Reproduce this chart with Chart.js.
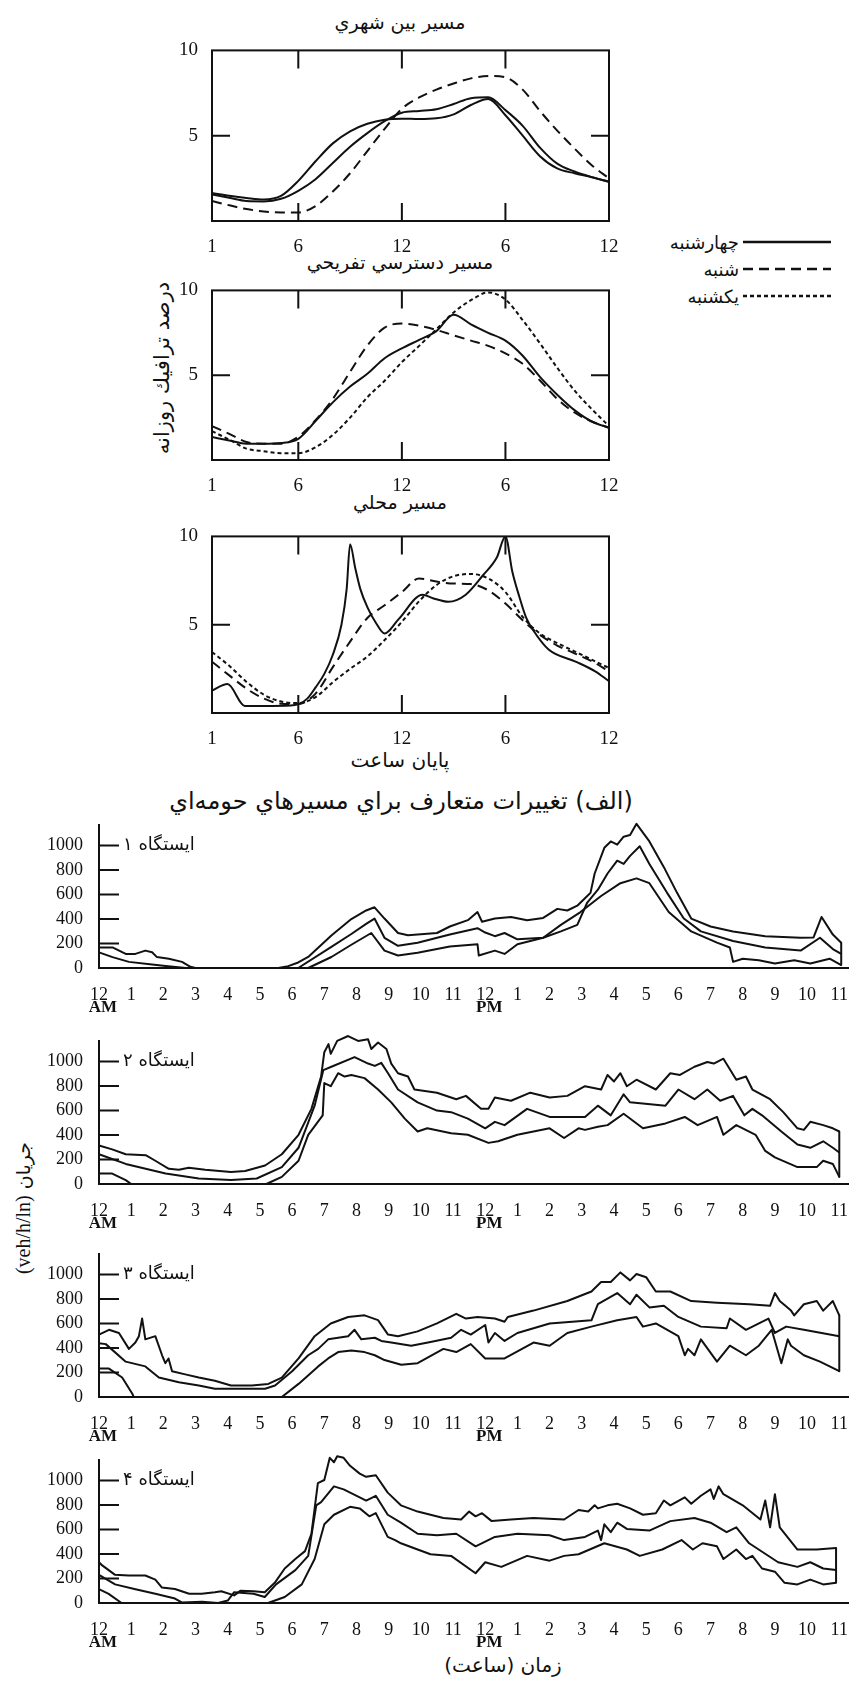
<!DOCTYPE html>
<html lang="fa">
<head>
<meta charset="utf-8">
<script src="https://cdn.jsdelivr.net/npm/chart.js@4.4.1/dist/chart.umd.min.js"></script>
<style>
  body { margin: 0; background: #fff; }
  #page { position: relative; width: 856px; height: 1684px; overflow: hidden; font-family: "DejaVu Sans", sans-serif; color: #111; }
  canvas { position: absolute; }
  .t { position: absolute; white-space: nowrap; transform: translate(-50%, -50%); font-size: 19px; }
  .rot { transform: translate(-50%, -50%) rotate(-90deg); }
  .key { position: absolute; white-space: nowrap; font-size: 18px; transform: translateY(-50%); text-align: right; }
  .latin { font-family: "Liberation Serif", serif; font-size: 20px; }
</style>
</head>
<body>
<div id="page">
  <div class="t" dir="rtl" style="left:400px; top:22px;">مسير بين شهري</div>
  <div class="t" dir="rtl" style="left:400px; top:262px;">مسير دسترسي تفريحي</div>
  <div class="t" dir="rtl" style="left:400px; top:502px;">مسير محلي</div>
  <div class="t" dir="rtl" style="left:400px; top:760px; font-size:20px;">پایان ساعت</div>
  <div class="t" dir="rtl" style="left:401px; top:801px; font-size:24px;">(الف) تغييرات متعارف براي مسيرهاي حومه‌اي</div>
  <div class="t rot" dir="rtl" style="left:162px; top:368px; font-size:21px;">درصد ترافيك روزانه</div>
  <div class="t rot" dir="rtl" style="left:23px; top:1208px; font-size:19px;">جریان <span class="latin">(veh/h/ln)</span></div>
  <div class="t" dir="rtl" style="left:503px; top:1665px; font-size:20px;">زمان (ساعت)</div>

  <div id="legend"></div>
  <svg style="position:absolute; left:0; top:0;" width="856" height="320" id="legendLines"></svg>

  <canvas id="top1" width="480" height="220" style="left:150px; top:33px;"></canvas>
  <canvas id="top2" width="480" height="219" style="left:150px; top:273px;"></canvas>
  <canvas id="top3" width="480" height="226" style="left:150px; top:519px;"></canvas>

  <canvas id="st1" width="856" height="212" style="left:0; top:806px;"></canvas>
  <canvas id="st2" width="856" height="212" style="left:0; top:1022px;"></canvas>
  <canvas id="st3" width="856" height="212" style="left:0; top:1235px;"></canvas>
  <canvas id="st4" width="856" height="212" style="left:0; top:1441px;"></canvas>
</div>

<script>
// ---- top panels: percent of daily traffic by ending hour ----
const topHours = [1, 2, 3, 4, 5, 6, 7, 8, 9, 10, 11, 12, 13, 14, 15, 16, 17, 18, 19, 20, 21, 22, 23, 24];
const topTickHours = [1, 6, 12, 18, 24];
const topTickLabels = ['1', '6', '12', '6', '12'];
const topYTicks = [5, 10];
const dayNames = ['چهارشنبه', 'شنبه', 'یکشنبه'];

// intercity route
const intercityWed = [1.64, 1.48, 1.35, 1.26, 1.47, 2.35, 3.5, 4.55, 5.26, 5.7, 5.94, 6.0, 5.98, 6.02, 6.25, 6.8, 7.15, 6.2, 5.0, 3.8, 3.08, 2.8, 2.57, 2.3];
const intercitySat = [1.17, 0.92, 0.7, 0.56, 0.5, 0.5, 0.88, 1.73, 2.8, 4.1, 5.4, 6.58, 7.24, 7.7, 8.06, 8.36, 8.5, 8.42, 7.7, 6.45, 5.3, 4.25, 3.27, 2.5];
const intercitySun = [1.55, 1.36, 1.17, 1.15, 1.3, 1.77, 2.45, 3.4, 4.35, 5.15, 5.85, 6.35, 6.45, 6.55, 6.86, 7.2, 7.25, 6.5, 5.58, 4.3, 3.36, 2.9, 2.57, 2.3];

// recreational access route
const recreationWed = [1.35, 1.15, 0.96, 0.96, 1.0, 1.25, 2.3, 3.4, 4.33, 5.08, 6.0, 6.58, 7.08, 7.6, 8.56, 8.0, 7.5, 7.04, 6.15, 4.9, 3.85, 2.94, 2.27, 1.9];
const recreationSat = [2.0, 1.54, 1.06, 0.96, 0.96, 1.37, 2.35, 3.6, 5.2, 6.75, 7.8, 8.05, 7.92, 7.67, 7.35, 7.04, 6.73, 6.29, 5.67, 4.69, 3.6, 2.8, 2.27, 1.9];
const recreationSun = [1.7, 1.2, 0.67, 0.52, 0.4, 0.4, 0.75, 1.48, 2.5, 3.7, 4.67, 5.77, 6.73, 7.71, 8.7, 9.42, 9.88, 9.46, 8.25, 6.88, 5.44, 4.1, 3.0, 2.0];

// local route (Wednesday read at its own hours to keep the two sharp peaks)
const localWedHours = [1, 1.9, 2.9, 4.5, 5.8, 6.5, 7, 7.5, 8, 8.5, 8.8, 9, 9.3, 9.6, 10, 10.5, 11, 11.8, 13.2, 13.8, 14.7, 15.7, 16.7, 17.5, 18, 18.4, 18.8, 19.2, 19.6, 20.5, 22.1, 23.2, 24];
const localWed = [1.27, 1.64, 0.4, 0.4, 0.45, 0.8, 1.45, 2.2, 3.3, 5.0, 7.0, 9.55, 8.2, 7.0, 6.0, 5.1, 4.5, 5.3, 6.7, 6.5, 6.3, 6.7, 7.8, 8.8, 10.0, 8.0, 6.6, 5.4, 4.7, 3.6, 2.9, 2.36, 1.8];
const localSat = [2.9, 2.13, 1.38, 0.82, 0.53, 0.51, 1.1, 2.6, 4.04, 5.38, 6.1, 6.85, 7.62, 7.44, 7.33, 7.3, 6.95, 6.2, 5.25, 4.42, 3.82, 3.38, 2.93, 2.36];
const localSun = [3.45, 2.67, 1.76, 1.04, 0.65, 0.56, 0.9, 1.74, 2.5, 3.2, 4.13, 5.16, 6.33, 7.24, 7.75, 7.87, 7.62, 6.85, 5.44, 4.5, 3.96, 3.49, 3.02, 2.55];

// ---- bottom panels: flow (veh/h/ln) over the day, [hour, flow] ----
const clockTicks = [0, 1, 2, 3, 4, 5, 6, 7, 8, 9, 10, 11, 12, 13, 14, 15, 16, 17, 18, 19, 20, 21, 22, 23];
const clockLabels = ['12', '1', '2', '3', '4', '5', '6', '7', '8', '9', '10', '11', '12', '1', '2', '3', '4', '5', '6', '7', '8', '9', '10', '11'];
const meridiem = ['AM', 'PM'];
const flowLabelTicks = [0, 200, 400, 600, 800, 1000];
const flowMarkTicks = [200, 400, 600, 800, 1000];
const stationNames = ['ایستگاه ۱', 'ایستگاه ۲', 'ایستگاه ۳', 'ایستگاه ۴'];

const st1High = [[0,168],[0.42,168],[0.83,115],[1.13,115],[1.44,142],[1.65,128],[1.8,89],[2.17,76],[2.58,50],[2.84,10],[3.0,0],[5.57,0],[5.88,15],[6.19,45],[6.5,90],[7.22,265],[7.84,400],[8.3,470],[8.56,496],[8.87,404],[9.29,286],[9.6,268],[9.9,273],[10.5,286],[10.9,339],[11.46,391],[11.76,457],[11.9,378],[12.3,404],[12.8,417],[13.3,391],[13.8,409],[14.24,483],[14.55,470],[14.86,509],[15.17,588],[15.27,614],[15.4,772],[15.7,982],[15.9,1034],[16.1,1008],[16.3,1073],[16.5,1087],[16.7,1178],[17.1,1034],[17.55,824],[17.96,614],[18.4,404],[19,339],[19.7,299],[20.7,260],[21.8,247],[22.2,250],[22.45,417],[22.8,273],[23.06,207]];
const st1Mid = [[0,128],[0.42,89],[0.93,50],[1.65,29],[2.07,16],[2.7,0],[6.19,0],[7.22,173],[7.84,278],[8.3,360],[8.56,404],[8.87,247],[9.29,181],[9.9,207],[10.9,273],[11.76,325],[12.0,290],[12.3,260],[12.6,286],[13.0,234],[13.8,247],[14.35,299],[14.86,352],[15.17,535],[15.5,640],[15.8,772],[16.1,877],[16.3,850],[16.5,916],[16.8,995],[17.1,850],[17.65,614],[18.17,404],[18.7,299],[19.7,220],[20.7,168],[21.8,142],[22.4,247],[22.8,155],[23.06,115]];
const st1Low = [[0,0],[6.5,0],[7.22,90],[7.84,190],[8.46,286],[8.87,142],[9.29,102],[9.9,125],[10.9,175],[11.76,194],[11.8,102],[12.3,142],[12.6,115],[13.0,194],[13.8,247],[14.35,352],[14.96,457],[15.6,588],[16.2,693],[16.7,732],[17.1,693],[17.7,457],[18.4,299],[19.2,207],[19.6,168],[19.7,50],[20,76],[20.5,63],[21,37],[21.6,63],[22.1,37],[22.7,76],[23.06,24]];

const st2High = [[0,315],[0.41,283],[0.83,243],[1.45,235],[1.75,190],[2.17,124],[2.48,116],[2.79,132],[3.3,116],[4.1,98],[4.54,106],[5.16,151],[5.68,243],[6.2,402],[6.6,614],[6.9,878],[7.0,1077],[7.13,1143],[7.2,1063],[7.4,1169],[7.74,1209],[8.05,1169],[8.36,1182],[8.46,1103],[8.67,1156],[8.93,1103],[9.08,984],[9.29,905],[9.6,878],[9.8,772],[10.5,746],[11.1,693],[11.4,720],[11.87,614],[12.1,614],[12.3,706],[12.8,680],[13.4,746],[14.0,706],[14.55,720],[15.1,799],[15.6,772],[15.8,891],[16.0,838],[16.2,905],[16.4,799],[16.7,852],[17.3,772],[17.75,905],[18.05,891],[18.5,958],[18.9,997],[19.1,984],[19.4,1024],[19.8,852],[20.1,878],[20.3,772],[20.85,693],[21.26,587],[21.7,455],[21.9,442],[22.1,508],[22.5,481],[22.8,455],[23.0,429]];
const st2Mid = [[0,243],[0.83,164],[2.07,85],[3.1,45],[4.1,32],[4.9,45],[5.68,138],[6.2,296],[6.7,640],[6.97,931],[7.22,958],[7.94,1037],[8.36,984],[8.57,965],[8.77,990],[8.98,905],[9.29,772],[9.9,667],[10.5,600],[10.94,587],[11.46,534],[12.0,455],[12.3,508],[12.6,481],[13.3,614],[14.0,548],[15.1,548],[15.5,640],[15.9,561],[16.3,733],[16.5,667],[17.6,640],[18.0,772],[18.5,693],[18.9,772],[19.3,680],[19.7,720],[20.05,561],[20.3,614],[20.6,561],[21.2,429],[21.7,323],[22.1,296],[22.5,349],[22.8,296],[23.0,257]];
const st2Low = [[0,85],[0.41,85],[0.83,32],[1.0,0],[5.2,0],[5.68,58],[6.2,190],[6.5,402],[6.8,508],[6.95,560],[7.0,825],[7.2,799],[7.43,905],[7.63,878],[7.84,891],[8.25,865],[8.67,772],[9.08,667],[9.5,534],[9.9,429],[10.2,455],[10.94,415],[11.46,402],[12.1,336],[12.4,349],[13.0,402],[13.5,429],[14.0,455],[14.45,376],[14.9,455],[15.1,442],[15.5,468],[15.8,481],[16.3,574],[16.9,455],[17.6,495],[18.2,548],[18.6,481],[19.2,548],[19.4,402],[19.8,481],[20.4,402],[20.7,270],[21.0,217],[21.7,138],[22.3,138],[22.5,190],[22.8,164],[23.0,58]];

const st3High = [[0,510],[0.31,549],[0.62,523],[0.93,393],[1.13,445],[1.24,497],[1.34,641],[1.44,471],[1.75,497],[1.96,341],[2.06,276],[2.16,315],[2.27,211],[2.68,185],[3.1,159],[3.6,133],[4.1,94],[4.75,94],[5.26,107],[5.68,159],[6.2,315],[6.7,497],[7.2,601],[7.74,654],[8.25,667],[8.67,628],[8.98,510],[9.29,497],[9.9,536],[10.5,601],[11.1,680],[11.4,641],[11.76,654],[12.3,641],[12.6,615],[12.7,654],[13.5,706],[14.55,784],[15.3,862],[15.6,940],[15.9,940],[16.2,1018],[16.5,953],[16.7,1005],[17.0,979],[17.3,862],[17.75,862],[18.4,784],[19.2,771],[20.2,758],[20.85,745],[21.0,849],[21.15,784],[21.5,706],[21.6,667],[21.9,758],[22.3,784],[22.5,706],[22.8,784],[23.0,667]];
const st3Mid = [[0,440],[0.21,432],[0.83,289],[1.44,250],[1.86,159],[2.48,120],[3.1,94],[3.6,68],[5.16,68],[5.47,94],[6.0,211],[6.5,341],[6.81,393],[7.12,471],[7.43,484],[7.74,497],[7.94,549],[8.15,471],[8.57,484],[8.77,458],[9.08,445],[9.7,419],[10.3,450],[10.94,484],[11.25,549],[11.55,510],[12.0,588],[12.1,445],[12.3,523],[12.6,458],[13.0,523],[14.0,601],[15.3,627],[15.5,758],[16.1,849],[16.5,758],[16.7,836],[17.1,732],[17.55,745],[18.0,654],[18.7,575],[19.5,562],[19.6,641],[20.1,549],[20.8,641],[21.0,523],[21.35,575],[21.9,549],[23.0,497]];
const st3Low = [[0,232],[0.31,232],[0.72,159],[1.03,29],[1.08,0],[5.68,0],[6.2,107],[6.81,250],[7.12,315],[7.43,367],[7.84,380],[8.25,367],[8.57,341],[8.87,302],[9.39,263],[9.9,276],[10.7,393],[11.1,367],[11.55,432],[12.0,315],[12.6,315],[13.5,445],[14.0,419],[14.55,523],[15.3,575],[16.1,627],[16.7,654],[16.9,575],[17.3,601],[18.0,497],[18.2,341],[18.3,393],[18.5,341],[18.7,471],[19.2,289],[19.6,419],[20.1,341],[20.5,419],[20.9,549],[21.2,276],[21.4,471],[21.5,419],[21.9,341],[22.4,289],[23.0,211]];

const st4High = [[0,333],[0.1,307],[0.5,230],[0.92,225],[1.44,225],[1.75,191],[1.95,127],[2.36,114],[2.8,75],[3.19,75],[3.6,88],[3.8,96],[4.2,62],[4.4,101],[4.8,96],[5.15,88],[5.46,165],[5.77,282],[6.1,359],[6.4,424],[6.6,566],[6.8,979],[7.0,1005],[7.17,1186],[7.3,1150],[7.4,1199],[7.6,1186],[7.8,1121],[8.1,1057],[8.3,1031],[8.6,1044],[8.97,902],[9.38,798],[9.9,747],[10.7,695],[11.25,682],[11.5,747],[11.7,708],[11.9,734],[12.2,669],[12.8,682],[13.5,695],[14.45,682],[14.9,760],[15.2,747],[15.4,798],[15.5,773],[15.8,798],[16.1,811],[16.5,773],[16.9,721],[17.3,734],[17.55,837],[17.75,798],[18.2,863],[18.4,811],[18.7,876],[19.0,928],[19.1,850],[19.25,953],[19.4,889],[20.0,798],[20.55,682],[20.7,837],[20.85,618],[21.0,889],[21.15,618],[21.7,437],[22.3,437],[22.9,450]];
const st4Mid = [[0,230],[0.5,152],[1.1,114],[1.75,75],[2.36,36],[2.57,5],[3.2,10],[3.7,0],[4.0,20],[4.2,88],[4.8,75],[5.15,49],[5.5,152],[6.1,269],[6.5,385],[6.75,798],[6.9,824],[7.3,953],[7.6,928],[8.1,863],[8.3,837],[8.6,876],[8.97,721],[9.38,656],[9.9,566],[10.5,553],[11.1,566],[11.7,463],[12.3,540],[13.0,566],[14.0,553],[14.45,514],[15.1,540],[15.5,592],[15.6,514],[15.7,643],[15.9,579],[16.1,656],[16.4,605],[17.1,592],[17.75,669],[18.5,695],[19.0,656],[19.5,579],[19.8,618],[20.2,488],[21.1,333],[21.7,295],[22.1,333],[22.5,282],[22.9,269]];
const st4Low = [[0,114],[0.3,75],[0.7,0],[5.25,0],[5.77,49],[6.3,152],[6.7,359],[7.0,643],[7.3,721],[7.8,786],[8.1,773],[8.4,708],[8.6,734],[8.97,540],[9.2,514],[9.38,488],[9.9,437],[10.3,398],[10.94,385],[11.7,243],[12.0,333],[12.5,295],[13.3,385],[14.0,346],[14.45,385],[14.9,398],[15.7,488],[16.4,437],[16.8,385],[17.5,437],[18.1,514],[18.45,437],[18.75,488],[19.2,463],[19.4,359],[19.8,437],[20.1,359],[20.3,385],[20.6,282],[21.0,256],[21.3,165],[21.7,152],[22.1,191],[22.5,152],[22.9,165]];

// ---- styling ----
const ink = '#111';
const serif = '"Liberation Serif", "Times New Roman", serif';
const solid = [];
const longDash = [10, 6];
const shortDash = [4, 3];
Chart.defaults.font.family = serif;
Chart.defaults.color = ink;

const pts = (xs, ys) => xs.map((x, i) => ({ x, y: ys[i] }));
const pairs = list => list.map(([x, y]) => ({ x, y }));

// box, inward tick marks, station name and AM/PM
const frame = {
  id: 'frame',
  afterDraw(chart, args, o) {
    const { ctx, chartArea: a, scales: { x, y } } = chart;
    ctx.save();
    ctx.strokeStyle = ink;
    ctx.lineWidth = 2;
    if (o.box) ctx.strokeRect(a.left, a.top, a.right - a.left, a.bottom - a.top);
    ctx.beginPath();
    (o.yMarks || []).forEach(v => {
      const py = y.getPixelForValue(v);
      ctx.moveTo(a.left, py); ctx.lineTo(a.left + o.len, py);
      if (o.box) { ctx.moveTo(a.right, py); ctx.lineTo(a.right - o.len, py); }
    });
    (o.xMarks || []).forEach(v => {
      const px = x.getPixelForValue(v);
      ctx.moveTo(px, a.top); ctx.lineTo(px, a.top + o.len);
      ctx.moveTo(px, a.bottom); ctx.lineTo(px, a.bottom - o.len);
    });
    ctx.stroke();
    if (o.station) {
      ctx.fillStyle = ink;
      ctx.font = '18px "DejaVu Sans"';
      ctx.textAlign = 'left';
      ctx.textBaseline = 'middle';
      ctx.fillText(o.station, a.left + 24, y.getPixelForValue(1000));
      ctx.font = 'bold 17px ' + serif;
      ctx.textAlign = 'center';
      ctx.fillText(meridiem[0], x.getPixelForValue(0) + 4, a.bottom + 40);
      ctx.fillText(meridiem[1], x.getPixelForValue(12) + 4, a.bottom + 40);
    }
    ctx.restore();
  }
};

function topChart(id, sets) {
  new Chart(document.getElementById(id), {
    type: 'line',
    data: {
      datasets: sets.map(s => ({
        label: s.label, data: s.data, borderColor: ink, borderWidth: 2, borderDash: s.dash,
        pointRadius: 0, cubicInterpolationMode: 'monotone', fill: false
      }))
    },
    options: {
      responsive: false, animation: false, devicePixelRatio: 1,
      layout: { padding: { top: 10, right: 21, left: 0, bottom: 0 } },
      plugins: { legend: { display: false }, tooltip: { enabled: false },
        frame: { box: true, len: 18, xMarks: [6, 12, 18], yMarks: [5] } },
      scales: {
        x: {
          type: 'linear', min: 1, max: 24,
          grid: { display: false }, border: { display: false },
          afterBuildTicks: s => { s.ticks = topTickHours.map(v => ({ value: v })); },
          afterFit: s => { s.height = 32; },
          ticks: { autoSkip: false, maxRotation: 0, padding: 7, font: { family: serif, size: 19 },
            callback: v => topTickLabels[topTickHours.indexOf(v)] }
        },
        y: {
          min: 0, max: 10,
          grid: { display: false }, border: { display: false },
          afterBuildTicks: s => { s.ticks = topYTicks.map(v => ({ value: v })); },
          afterFit: s => { s.width = 62; },
          ticks: { padding: 6, font: { family: serif, size: 19 }, callback: v => String(v) }
        }
      }
    },
    plugins: [frame]
  });
}

topChart('top1', [
  { label: dayNames[0], data: pts(topHours, intercityWed), dash: solid },
  { label: dayNames[1], data: pts(topHours, intercitySat), dash: longDash },
  { label: dayNames[2], data: pts(topHours, intercitySun), dash: solid }
]);
topChart('top2', [
  { label: dayNames[0], data: pts(topHours, recreationWed), dash: solid },
  { label: dayNames[1], data: pts(topHours, recreationSat), dash: longDash },
  { label: dayNames[2], data: pts(topHours, recreationSun), dash: shortDash }
]);
topChart('top3', [
  { label: dayNames[0], data: pts(localWedHours, localWed), dash: solid },
  { label: dayNames[1], data: pts(topHours, localSat), dash: longDash },
  { label: dayNames[2], data: pts(topHours, localSun), dash: shortDash }
]);

function stationChart(id, name, high, mid, low) {
  const h = pairs(high), m = pairs(mid), l = pairs(low);
  const end = h[h.length - 1];
  const closing = [{ x: end.x, y: end.y }, { x: end.x, y: l[l.length - 1].y }];
  const line = data => ({ data, borderColor: ink, borderWidth: 2, pointRadius: 0, tension: 0,
    borderJoinStyle: 'round', fill: false, clip: false });
  new Chart(document.getElementById(id), {
    type: 'line',
    data: { datasets: [line(h), line(m), line(l), line(closing)] },
    options: {
      responsive: false, animation: false, devicePixelRatio: 1,
      layout: { padding: { top: 12, right: 4, left: 0, bottom: 0 } },
      plugins: { legend: { display: false }, tooltip: { enabled: false },
        frame: { box: false, len: 20, yMarks: flowMarkTicks, station: name } },
      scales: {
        x: {
          type: 'linear', min: 0, max: 23.3,
          grid: { display: false }, border: { display: true, width: 2, color: ink },
          afterBuildTicks: s => { s.ticks = clockTicks.map(v => ({ value: v })); },
          afterFit: s => { s.height = 50; },
          ticks: { autoSkip: false, maxRotation: 0, padding: 8, font: { family: serif, size: 18 },
            callback: v => clockLabels[clockTicks.indexOf(v)] }
        },
        y: {
          min: 0, max: 1170,
          grid: { display: false }, border: { display: true, width: 2, color: ink },
          afterBuildTicks: s => { s.ticks = flowLabelTicks.map(v => ({ value: v })); },
          afterFit: s => { s.width = 99; },
          ticks: { padding: 8, font: { family: serif, size: 18 }, callback: v => String(v) }
        }
      }
    },
    plugins: [frame]
  });
}

stationChart('st1', stationNames[0], st1High, st1Mid, st1Low);
stationChart('st2', stationNames[1], st2High, st2Mid, st2Low);
stationChart('st3', stationNames[2], st3High, st3Mid, st3Low);
stationChart('st4', stationNames[3], st4High, st4Mid, st4Low);

// legend for the top panels
const legendRows = [242, 269, 296];
const legendDash = [solid, longDash, shortDash];
const svg = document.getElementById('legendLines');
const legendBox = document.getElementById('legend');
dayNames.forEach((name, i) => {
  const ln = document.createElementNS('http://www.w3.org/2000/svg', 'line');
  ln.setAttribute('x1', 743); ln.setAttribute('x2', 831);
  ln.setAttribute('y1', legendRows[i]); ln.setAttribute('y2', legendRows[i]);
  ln.setAttribute('stroke', ink); ln.setAttribute('stroke-width', 2.5);
  if (legendDash[i].length) ln.setAttribute('stroke-dasharray', legendDash[i].join(' '));
  svg.appendChild(ln);
  const t = document.createElement('div');
  t.className = 'key';
  t.dir = 'rtl';
  t.style.right = (856 - 739) + 'px';
  t.style.top = legendRows[i] + 'px';
  t.textContent = name;
  legendBox.appendChild(t);
});
</script>
</body>
</html>
